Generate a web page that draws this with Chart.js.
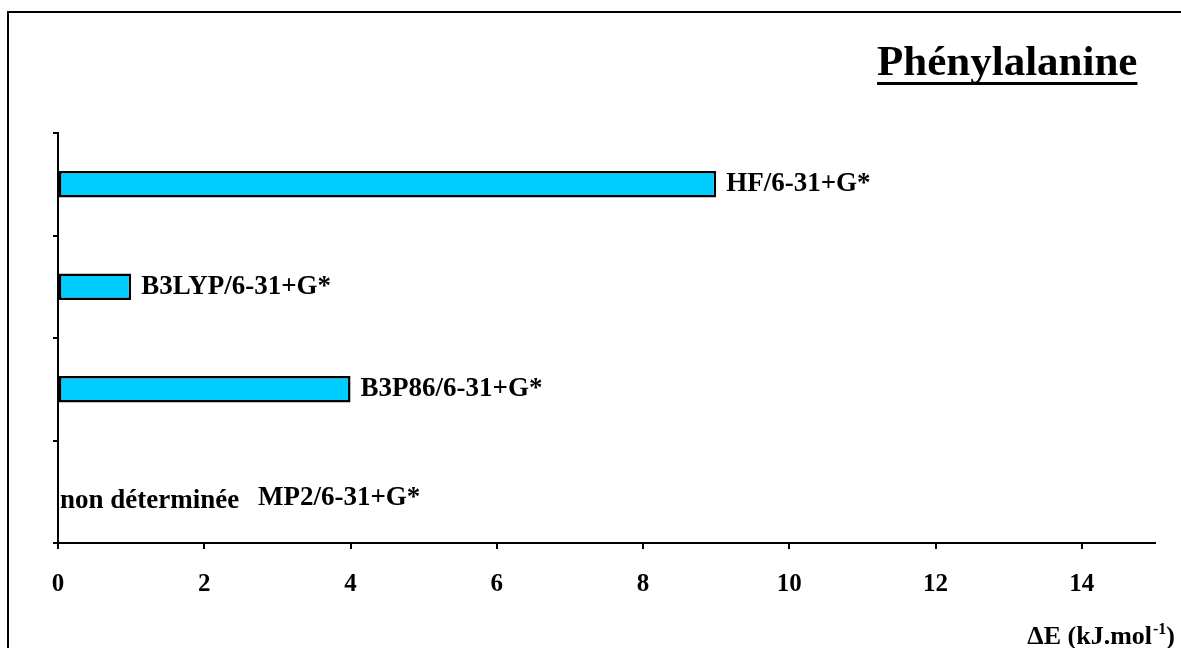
<!DOCTYPE html>
<html>
<head>
<meta charset="utf-8">
<script src="https://cdn.jsdelivr.net/npm/chart.js@4.4.1/dist/chart.umd.min.js"></script>
<style>
  html, body { margin: 0; padding: 0; background: #fff; }
  canvas { display: block; }
</style>
</head>
<body>
<canvas id="c" width="1181" height="648"></canvas>
<script>
const categories = ['HF/6-31+G*', 'B3LYP/6-31+G*', 'B3P86/6-31+G*', 'MP2/6-31+G*'];
const deltaE = [9, 1, 4, null];
const xTickValues = [0, 2, 4, 6, 8, 10, 12, 14];
const undeterminedText = 'non déterminée';
const chartTitle = 'Phénylalanine';
const axisTitleMain = 'ΔE (kJ.mol';
const axisTitleSup = '-1';
const axisTitleEnd = ')';

const SERIF = '"Liberation Serif", "Times New Roman", serif';

const decorPlugin = {
  id: 'decor',
  afterDraw(chart) {
    const ctx = chart.ctx;
    const xs = chart.scales.x, ys = chart.scales.y;
    ctx.save();
    // frame (left and top)
    ctx.strokeStyle = '#000';
    ctx.lineWidth = 2;
    ctx.beginPath();
    ctx.moveTo(8, 648);
    ctx.lineTo(8, 12);
    ctx.lineTo(1181, 12);
    ctx.stroke();

    // title with underline
    ctx.fillStyle = '#000';
    ctx.font = 'bold 43px ' + SERIF;
    ctx.textBaseline = 'alphabetic';
    ctx.textAlign = 'left';
    const tx = 877, ty = 75;
    ctx.fillText(chartTitle, tx, ty);
    const tw = ctx.measureText(chartTitle).width;
    ctx.fillRect(tx, 82, tw, 3);

    // axis title with superscript, right aligned
    const big = 'bold 26px ' + SERIF, small = 'bold 16px ' + SERIF;
    ctx.font = big;
    const w1 = ctx.measureText(axisTitleMain).width;
    const w3 = ctx.measureText(axisTitleEnd).width;
    ctx.font = small;
    const w2 = ctx.measureText(axisTitleSup).width;
    const right = 1175, base = 644;
    let x = right - (w1 + w2 + w3 + 1);
    ctx.font = big;
    ctx.fillText(axisTitleMain, x, base);
    x += w1 + 1;
    ctx.font = small;
    ctx.fillText(axisTitleSup, x, base - 10);
    x += w2;
    ctx.font = big;
    ctx.fillText(axisTitleEnd, x, base);

    // bar labels
    ctx.font = 'bold 27px ' + SERIF;
    ctx.textBaseline = 'middle';
    categories.forEach((label, i) => {
      const yc = ys.getPixelForValue(i);
      const v = deltaE[i];
      if (v === null || v === undefined) {
        const x0 = xs.getPixelForValue(0);
        ctx.fillText(undeterminedText, x0 + 2, yc + 9);
        ctx.fillText(label, x0 + 200, yc + 6);
      } else {
        const xe = xs.getPixelForValue(v);
        ctx.fillText(label, xe + 10, yc);
      }
    });
    ctx.restore();
  }
};

new Chart(document.getElementById('c'), {
  type: 'bar',
  data: {
    labels: categories,
    datasets: [{
      data: deltaE,
      backgroundColor: '#00CCFF',
      borderColor: '#000',
      borderWidth: 2.5,
      borderSkipped: false,
      categoryPercentage: 1,
      barPercentage: 0.26
    }]
  },
  options: {
    indexAxis: 'y',
    responsive: false,
    animation: false,
    devicePixelRatio: 1,
    layout: { padding: { top: 133, right: 26, left: 0, bottom: 0 } },
    plugins: {
      legend: { display: false },
      title: { display: false },
      tooltip: { enabled: false }
    },
    scales: {
      x: {
        type: 'linear',
        min: 0,
        max: 15,
        afterBuildTicks(scale) {
          scale.ticks = xTickValues.map(v => ({ value: v }));
        },
        afterFit(scale) { scale.height = 105; },
        grid: {
          display: true,
          drawOnChartArea: false,
          drawTicks: true,
          tickLength: 6,
          color: '#000',
          lineWidth: 2
        },
        border: { display: true, color: '#000', width: 2 },
        ticks: {
          color: '#000',
          font: { family: SERIF, size: 25, weight: 'bold' },
          padding: 21,
          maxRotation: 0
        }
      },
      y: {
        type: 'category',
        offset: true,
        afterFit(scale) { scale.width = 58; },
        grid: {
          display: true,
          offset: true,
          drawOnChartArea: false,
          drawTicks: true,
          tickLength: 5,
          color: '#000',
          lineWidth: 2
        },
        border: { display: true, color: '#000', width: 2 },
        ticks: { display: false }
      }
    }
  },
  plugins: [decorPlugin]
});
</script>
</body>
</html>
